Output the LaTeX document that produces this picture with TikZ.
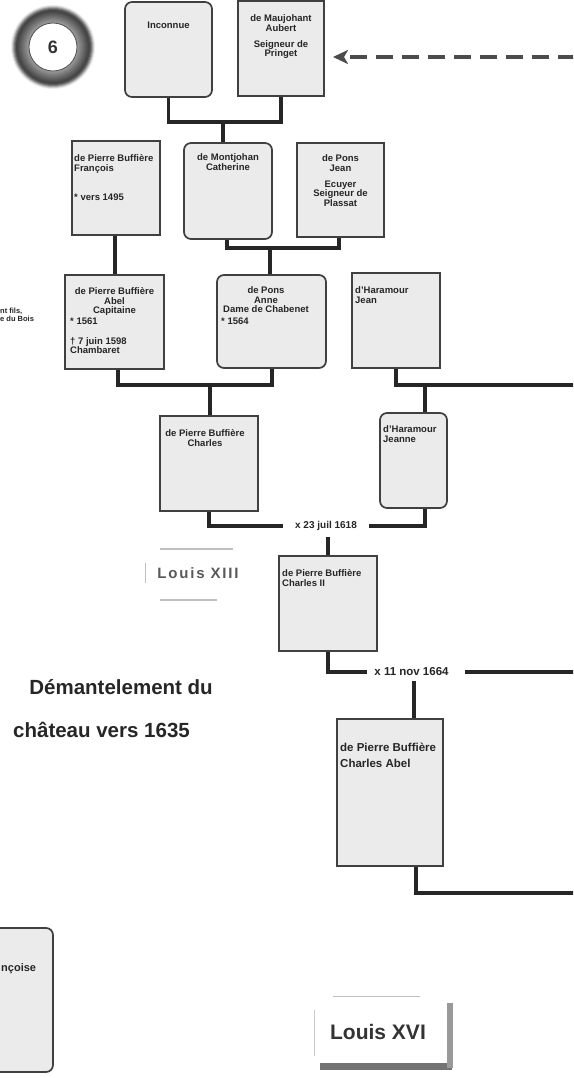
\documentclass[tikz,border=0pt]{standalone}
\usepackage{fontspec}
\setmainfont{Liberation Sans}
\usetikzlibrary{arrows.meta}
\tikzset{
  pbox/.style={draw=black!75, fill=black!8, line width=1.7pt, inner sep=0pt},
  rbox/.style={pbox, rounded corners=7pt},
  conn/.style={draw=black!85, line width=3.2pt},
  btxt/.style={font=\fontsize{9.5}{9.5}\selectfont\bfseries, text=black!85, inner sep=0pt},
  bigtxt/.style={font=\fontsize{11.5}{16}\selectfont\bfseries, text=black!85, inner sep=0pt},
  mtxt/.style={fill=white, inner ysep=1pt, text=black!85},
  dasharrow/.style={draw=black!70, line width=4pt, dash pattern=on 17pt off 9pt,
     -{Stealth[length=15pt,width=14pt,inset=4pt]}},
}
\begin{document}
\begin{tikzpicture}[x=1pt,y=-1pt]
\useasboundingbox (0,0) rectangle (573,1078);
\clip (0,0) rectangle (573,1078);
\fill[white] (0,0) rectangle (573,1078);

% badge
\foreach \r/\c in {42/8,41/20,40/36,39/52,38/64,37/72,36/72,35/70,34/67,33/64,32/61,31/58,30/55,29/52,28/49,27/46,26/43,25/40}
  {\fill[black!\c] (53,47) circle (\r pt);}
\node[circle, fill=white, draw=black!70, line width=0.8pt, minimum size=48pt, inner sep=0pt,
      font=\fontsize{18}{18}\selectfont\bfseries, text=black!80] (badge) at (53,47) {6};

% row 1
\node[rbox, minimum width=87pt, minimum height=95pt] (inc) at (168.5,49.5) {};
\node[pbox, minimum width=86pt, minimum height=95pt] (mauj) at (281,48.5) {};
\node[btxt, anchor=north, align=center] (t-inc) at (168.5,21.5) {Inconnue};
\node[btxt, anchor=north, align=center] (t-mauj) at (281,14.5) {de Maujohant\\Aubert\\[6.5pt]Seigneur de\\Pringet};

% dashed arrow
\coordinate (arrS) at (575,57);
\coordinate (arrE) at (333,57);
\draw[dasharrow] (arrS) -- (arrE);

% row 2
\node[pbox, minimum width=88pt, minimum height=94pt] (fran) at (116,188) {};
\node[rbox, minimum width=88pt, minimum height=96pt] (cath) at (228,191) {};
\node[pbox, minimum width=87pt, minimum height=94pt] (jpons) at (340.5,190) {};
\node[btxt, anchor=north west, align=left] (t-fran) at (74,154.5) {de Pierre Buffière\\François\\[20pt]* vers 1495};
\node[btxt, anchor=north, align=center] (t-cath) at (228,153.5) {de Montjohan\\Catherine};
\node[btxt, anchor=north, align=center] (t-jpons) at (340.5,154.5) {de Pons\\Jean\\[6.5pt]Ecuyer\\Seigneur de\\Plassat};

% row 3
\node[pbox, minimum width=99pt, minimum height=94pt] (abel) at (114.5,322) {};
\node[rbox, minimum width=109pt, minimum height=93pt] (anne) at (271.5,321.5) {};
\node[pbox, minimum width=88pt, minimum height=95pt] (jeanh) at (396,320.5) {};
\node[btxt, anchor=north, align=center] (t-abel1) at (114.5,287.5) {de Pierre Buffière\\Abel\\Capitaine};
\node[btxt, anchor=north west, align=left] (t-abel2) at (70,317.5) {* 1561\\[10.5pt]† 7 juin 1598\\Chambaret};
\node[btxt, anchor=north, align=center] (t-anne1) at (266,286.5) {de Pons\\Anne\\Dame de Chabenet};
\node[btxt, anchor=north west, align=left] (t-anne2) at (221,317.5) {* 1564};
\node[btxt, anchor=north west, align=left] (t-jeanh) at (355,286.5) {d'Haramour\\Jean};
\node[font=\fontsize{7.5}{8}\selectfont\bfseries, text=black!85, inner sep=0pt, anchor=north west, align=left] (t-side) at (0,308) {nt fils,\\e du Bois};

% row 4
\node[pbox, minimum width=98pt, minimum height=95pt] (charles) at (209,463.5) {};
\node[rbox, minimum width=67pt, minimum height=95pt] (jeanne) at (413.5,460.5) {};
\node[btxt, anchor=north, align=center] (t-charles) at (205,429.5) {de Pierre Buffière\\Charles};
\node[btxt, anchor=north west, align=left] (t-jeanne) at (383,425.5) {d'Haramour\\Jeanne};

% row 5
\node[pbox, minimum width=98pt, minimum height=95pt] (c2) at (328,603.5) {};
\node[btxt, anchor=north west, align=left] (t-c2) at (282,569.5) {de Pierre Buffière\\Charles II};

% row 6
\node[pbox, minimum width=106pt, minimum height=147pt] (cabel) at (390,792.5) {};
\node[bigtxt, anchor=north west, align=left] (t-cabel) at (340,742.5) {de Pierre Buffière\\Charles Abel};

% connectors
\coordinate (j1) at (223,122);
\draw[conn] (inc.south) -- (inc.south |- j1) -- (mauj.south |- j1) -- (mauj.south);
\draw[conn] (j1) -- (j1 |- cath.north);

\draw[conn] (fran.south -| 115,0) -- (abel.north -| 115,0);

\coordinate (j2) at (270,248);
\draw[conn] (cath.south -| 227,0) -- (227,248) -- (339,248) -- (jpons.south -| 339,0);
\draw[conn] (j2) -- (j2 |- anne.north);

\coordinate (j3) at (210,385);
\draw[conn] (abel.south -| 118,0) -- (118,385) -- (272,385) -- (anne.south -| 272,0);
\draw[conn] (j3) -- (j3 |- charles.north);

\coordinate (j4) at (425,385);
\coordinate (edge4) at (575,385);
\draw[conn] (jeanh.south) -- (jeanh.south |- j4) -- (edge4);
\draw[conn] (j4) -- (j4 |- jeanne.north);

% marriage 1618
\coordinate (m23a) at (209,526);
\coordinate (m23b) at (425,526);
\draw[conn] (charles.south -| m23a) -- (m23a) -- (m23b) -- (jeanne.south -| m23b);
\node[mtxt, inner xsep=12pt, font=\fontsize{10}{10}\selectfont\bfseries] (m23) at (326,526) {x 23 juil 1618};
\draw[conn] ([yshift=-5pt]m23.south -| c2.north) -- (c2.north);

% marriage 1664
\coordinate (m64a) at (328,672);
\node[inner sep=0pt, font=\fontsize{11.5}{11.5}\selectfont\bfseries, text=black!85] (m64) at (411.5,672) {x 11 nov 1664};
\coordinate (edge64) at (575,672);
\draw[conn] (c2.south -| m64a) -- (m64a) -- ([xshift=-7pt]m64.west);
\draw[conn] ([xshift=16pt]m64.east) -- (edge64);
\draw[conn] ([yshift=-5pt]m64.south -| 414,0) -- (cabel.north -| 414,0);

% bottom line
\coordinate (b1) at (416,893);
\coordinate (edgeb) at (575,893);
\draw[conn] (cabel.south -| b1) -- (b1) -- (edgeb);

% box cut at left edge
\node[rbox, minimum width=113pt, minimum height=144pt] (fse) at (-3.5,1000) {};
\node[font=\fontsize{11}{11}\selectfont\bfseries, text=black!85, inner sep=0pt, anchor=west] (t-fse) at (1,969) {nçoise};

% side texts
\node[font=\fontsize{15}{15}\selectfont\bfseries\addfontfeature{LetterSpace=12}, text=black!65, inner sep=0pt] (l13) at (198,573) {Louis XIII};
\draw[black!25, line width=1.5pt] (160,549) -- (233,549);
\draw[black!25, line width=1.5pt] (160,600) -- (217,600);
\draw[black!25, line width=1pt] (145,563) -- (145,583);

\node[font=\fontsize{20.5}{20.5}\selectfont\bfseries, text=black!85, inner sep=0pt, anchor=base east] (dem1) at (213,694) {Démantelement du};
\node[font=\fontsize{20.5}{20.5}\selectfont\bfseries, text=black!85, inner sep=0pt, anchor=base west] (dem2) at (13,737) {château vers 1635};

% Louis XVI
\fill[black!55] (320,1063) rectangle (452,1070);
\fill[black!40] (447,1003) rectangle (453,1068);
\draw[black!20, line width=0.8pt] (314,1010) -- (314,1056);
\draw[black!25, line width=1pt] (333,996) -- (420,996);
\node[font=\fontsize{21}{21}\selectfont\bfseries, text=black!80, inner sep=0pt] (l16) at (378,1032) {Louis XVI};
\end{tikzpicture}
\end{document}
